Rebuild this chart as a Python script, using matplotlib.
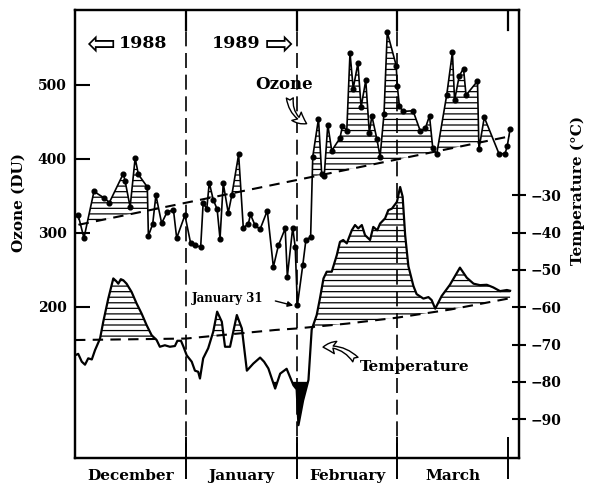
import numpy as np
import matplotlib
matplotlib.use("Agg")
import matplotlib.pyplot as plt
import matplotlib.transforms as mtransforms

plt.rcParams['font.family'] = ['DejaVu Serif', 'DejaVu Sans']
plt.rcParams['font.weight'] = 'bold'
plt.rcParams['hatch.linewidth'] = 0.9

# ---------------- data (x = days since 1 December 1988) ----------------
ozone_days = [0.9, 2.5, 5.3, 8.2, 9.6, 13.5, 14.0, 15.4, 16.8, 17.7, 20.2, 20.5,
              21.7, 22.6, 24.2, 25.7, 27.5, 28.4, 30.7, 32.3, 33.5, 35.1, 35.8,
              36.8, 37.5, 38.6, 39.7, 40.5, 41.4, 42.8, 43.8, 45.7, 47.0, 48.4,
              49.0, 50.3, 51.7, 53.7, 55.4, 56.8, 58.7, 59.3, 60.8, 61.5, 62.1,
              63.6, 64.5, 65.8, 66.4, 68.0, 68.9, 69.6, 70.6, 71.7, 74.0, 74.7,
              75.9, 76.8, 77.7, 79.0, 79.9, 81.2, 82.2, 82.9, 84.3, 85.2, 86.3,
              87.2, 89.7, 90.0, 90.6, 91.6, 94.4, 96.4, 97.8, 99.0, 99.9, 101.0,
              103.8, 105.4, 106.0, 107.3, 108.5, 109.2, 112.4, 112.8, 114.3,
              118.4, 120.1, 120.7, 121.5]
ozone_du = [324, 293, 356, 347, 341, 380, 370, 335, 401, 379, 362, 296,
            312, 351, 313, 328, 331, 293, 324, 286, 283, 281, 341,
            332, 368, 345, 332, 292, 367, 327, 351, 406, 307, 312,
            325, 310, 305, 330, 254, 283, 306, 241, 307, 281, 202,
            256, 291, 294, 403, 454, 379, 377, 446, 411, 428, 445,
            438, 543, 495, 529, 470, 506, 435, 458, 427, 403, 461,
            571, 526, 499, 471, 464, 465, 438, 441, 458, 415, 406,
            486, 544, 479, 512, 522, 486, 505, 413, 456,
            407, 407, 417, 440]
ozone_trend_days = [1, 122]
ozone_trend_du = [311, 431]

temp_days = [0.0, 0.9, 1.9, 2.8, 3.7, 4.7, 5.6, 7.0, 7.9, 9.3, 10.7, 11.5, 12.1,
             12.8, 13.5, 14.4, 15.8, 17.2, 18.6, 20.0, 21.4, 22.8, 23.7, 25.1,
             26.5, 27.9, 28.6, 29.6, 30.3, 31.2, 32.6, 33.5, 34.4, 34.9, 35.8,
             37.2, 38.6, 39.7, 41.0, 41.9, 43.3, 45.2, 46.6, 48.0, 49.8, 51.7,
             52.8, 54.0, 55.9, 57.3, 59.1, 61.0, 61.9, 62.4, 63.7, 65.2, 66.1,
             67.5, 68.4, 69.4, 70.3, 71.7, 73.1, 74.0, 74.9, 75.9, 77.3, 78.2,
             79.1, 80.1, 81.0, 82.4, 83.3, 84.4, 85.2, 86.6, 87.5, 88.5, 89.9,
             90.8, 91.5, 92.2, 93.1, 94.5, 95.4, 97.3, 98.7, 99.6, 100.6, 102.4,
             104.7, 107.5, 109.4, 111.3, 113.1, 115.0, 116.8, 118.7, 120.6, 121.5]
temp_c = [-72.9, -72.5, -74.6, -75.4, -73.7, -74.0, -71.5, -68.4, -63.9, -57.7,
          -52.3, -53.0, -53.7, -52.5, -52.8, -53.7, -55.9, -59.0, -61.7, -64.8,
          -67.5, -68.8, -70.6, -70.2, -70.6, -70.4, -69.0, -69.0, -70.6, -72.9,
          -74.6, -77.0, -77.3, -79.1, -73.7, -71.0, -66.6, -61.2, -63.9, -70.6,
          -70.6, -62.1, -65.7, -77.0, -75.1, -73.5, -74.6, -76.4, -81.8, -77.8,
          -76.5, -80.9, -82.0, -91.6, -85.0, -79.5, -66.0, -62.1, -57.7, -52.3,
          -50.5, -50.5, -46.1, -42.5, -42.0, -42.9, -39.4, -38.0, -38.9, -38.0,
          -40.7, -42.0, -38.5, -39.4, -37.6, -36.2, -34.0, -33.6, -31.8, -27.8,
          -30.4, -40.7, -49.0, -54.3, -56.5, -57.7, -57.3, -58.1, -60.4, -57.0,
          -54.0, -49.4, -52.1, -53.7, -54.1, -54.0, -54.7, -55.7, -55.4, -55.6]
temp_clim_days = [0, 31, 56, 62, 76, 90, 105, 121.5]
temp_clim_c = [-68.8, -68.4, -66.1, -65.7, -64.4, -62.8, -60.6, -57.6]
psc_threshold = -80

month_names = ['December', 'January', 'February', 'March']
month_edges = [0, 31, 62, 90, 121]
ozone_ticks = [200, 300, 400, 500]
temp_ticks = [-30, -40, -50, -60, -70, -80, -90]

# ---------------- figure ----------------
fig = plt.figure(figsize=(5.89, 4.84), dpi=100)
ax = fig.add_axes([0.1273, 0.0537, 0.7539, 0.9256])
ax.set_xlim(0, 124)
ax.set_ylim(-4, 601)
ax2 = ax.twinx()
ax2.set_ylim(-100.4, 19.6)

od = np.array(ozone_days)
ov = np.array(ozone_du, dtype=float)
ob = np.interp(od, ozone_trend_days, ozone_trend_du)
td = np.array(temp_days)
tv = np.array(temp_c)
tb = np.interp(td, temp_clim_days, temp_clim_c)

# ozone
ax.fill_between(od, ov, ob, where=ov > ob, interpolate=True, facecolor='none',
                edgecolor='black', hatch='---', linewidth=0)
ax.plot(ozone_trend_days, ozone_trend_du, color='black', lw=1.5, ls=(0, (5, 3.5)))
ax.plot(od, ov, '-o', color='black', lw=1.2, ms=3.4)

# temperature
ax2.fill_between(td, tv, tb, where=tv > tb, interpolate=True, facecolor='none',
                 edgecolor='black', hatch='---', linewidth=0)
ax2.fill_between(td, tv, psc_threshold, where=tv < psc_threshold, interpolate=True,
                 color='black', linewidth=0)
ax2.plot(temp_clim_days, temp_clim_c, color='black', lw=1.5, ls=(0, (5, 3.5)))
ax2.plot(td, tv, color='black', lw=1.6)

# month separators
for b in month_edges[1:4]:
    ax.axvline(b, color='black', lw=1.2, ls=(0, (9, 4)))
for b in month_edges[1:]:
    ax.axvline(b, ymin=0.955, ymax=1.0, color='black', lw=1.6)

# axes styling
for a in (ax, ax2):
    for s in a.spines.values():
        s.set_linewidth(1.6)
ax.set_xticks(month_edges[1:])
ax.set_xticklabels([])
ax.tick_params(axis='x', direction='inout', length=30, width=1.4)
ax.set_yticks(ozone_ticks)
ax.tick_params(axis='y', direction='in', length=11, width=1.5, labelsize=10, pad=6)
ax2.set_yticks(temp_ticks)
ax2.set_yticklabels([f'\u2212{abs(t)}' for t in temp_ticks])
ax2.tick_params(axis='y', direction='inout', length=10, width=1.5, labelsize=10, pad=3)

ax.set_ylabel('Ozone (DU)', fontsize=11, fontweight='bold')
ax.yaxis.set_label_coords(-0.112, 0.57)
ax2.set_ylabel('Temperature (\u00b0C)', fontsize=11, fontweight='bold', rotation=90)
ax2.yaxis.set_label_coords(1.117, 0.598)

trans = mtransforms.blended_transform_factory(ax.transData, ax.transAxes)
for i, name in enumerate(month_names):
    mid = (month_edges[i] + month_edges[i + 1]) / 2
    ax.text(mid, -0.04, name, transform=trans, ha='center', va='center', fontsize=11)

ax.text(3.0, 0.922, '\u21e6', transform=trans, ha='left', va='center', fontsize=25,
        family=['DejaVu Sans'], fontweight='normal')
ax.text(12.3, 0.926, '1988', transform=trans, ha='left', va='center', fontsize=12.5)
ax.text(38.3, 0.926, '1989', transform=trans, ha='left', va='center', fontsize=12.5)
ax.text(53.0, 0.922, '\u21e8', transform=trans, ha='left', va='center', fontsize=25,
        family=['DejaVu Sans'], fontweight='normal')

ax.text(58.5, 500, 'Ozone', ha='center', va='center', fontsize=12)
ax.annotate('', xy=(65.4, 446), xytext=(60.0, 486),
            arrowprops=dict(arrowstyle='fancy,head_length=0.9,head_width=0.9,tail_width=0.5',
                            fc='white', ec='black', lw=1.0,
                            connectionstyle='arc3,rad=0.35'))
ax2.text(95, -76, 'Temperature', ha='center', va='center', fontsize=11)
ax2.annotate('', xy=(68.5, -70.8), xytext=(78.8, -74.6),
             arrowprops=dict(arrowstyle='fancy,head_length=0.9,head_width=0.9,tail_width=0.5',
                             fc='white', ec='black', lw=1.0,
                             connectionstyle='arc3,rad=0.3'))
ax.text(42.7, 212, 'January 31', ha='center', va='center', fontsize=8.5)
ax.annotate('', xy=(61.7, 201), xytext=(55.2, 209),
            arrowprops=dict(arrowstyle='-|>', color='black', lw=1.0, mutation_scale=8))

fig.savefig('out.png', dpi=100)
